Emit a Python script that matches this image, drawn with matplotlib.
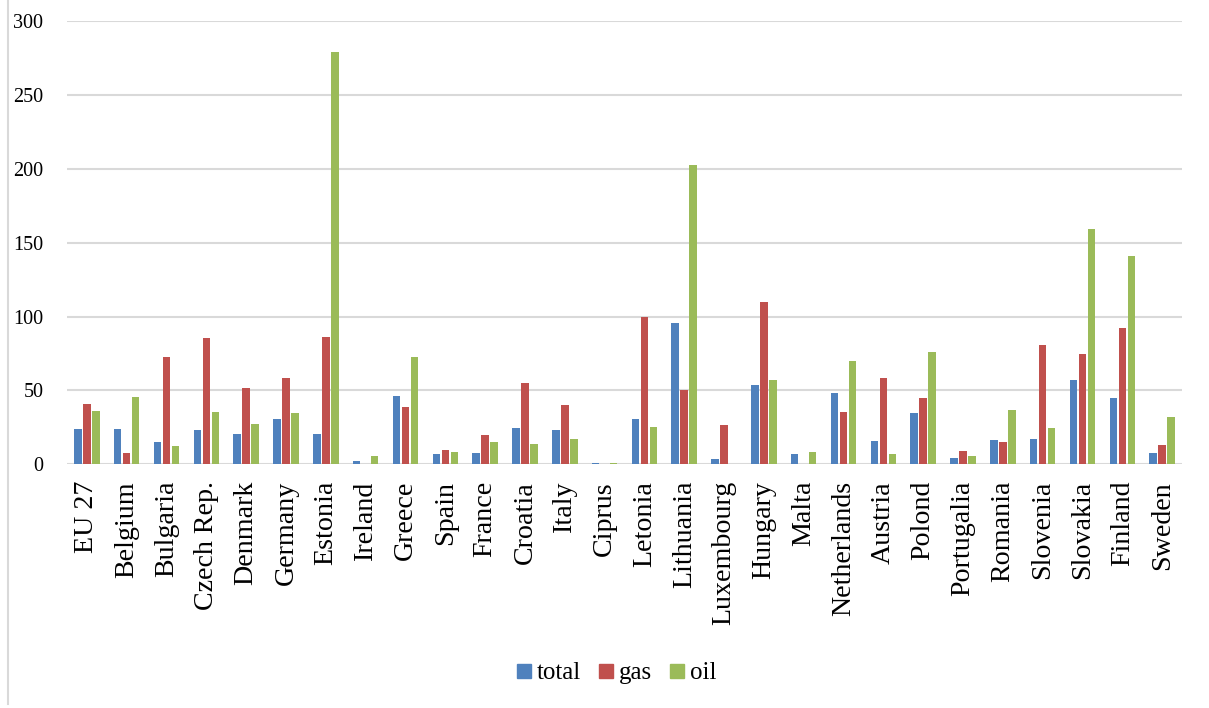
import matplotlib
matplotlib.use("Agg")
import matplotlib.pyplot as plt
import numpy as np
from matplotlib.lines import Line2D
from matplotlib.font_manager import FontProperties

countries = ["EU 27", "Belgium", "Bulgaria", "Czech Rep.", "Denmark", "Germany", "Estonia",
             "Ireland", "Greece", "Spain", "France", "Croatia", "Italy", "Ciprus", "Letonia",
             "Lithuania", "Luxembourg", "Hungary", "Malta", "Netherlands", "Austria", "Polond",
             "Portugalia", "Romania", "Slovenia", "Slovakia", "Finland", "Sweden"]
total = [24.0, 23.8, 14.9, 23.3, 20.6, 30.8, 20.8, 2.5, 46.2, 7.0, 7.9, 24.4, 23.3, 1.1,
         30.8, 95.9, 3.6, 53.8, 7.0, 48.4, 15.8, 34.6, 4.3, 16.5, 17.0, 57.0, 44.6, 7.9]
gas = [40.7, 7.5, 72.6, 85.7, 52.0, 58.4, 86.2, 0.0, 38.5, 10.0, 19.7, 54.8, 40.0, 0.0,
       100.0, 50.5, 26.7, 110.2, 0.0, 35.3, 58.4, 45.0, 9.0, 15.2, 80.8, 74.9, 92.1, 13.3]
oil = [36.0, 45.7, 12.7, 35.3, 27.1, 34.8, 279.0, 5.7, 72.6, 8.1, 15.2, 13.8, 17.0, 0.9,
       25.3, 202.5, 0.0, 57.2, 8.1, 70.1, 6.8, 76.2, 5.7, 36.7, 24.4, 159.1, 140.8, 32.1]
series_names = ["total", "gas", "oil"]
colors = ["#4F81BD", "#C0504D", "#9BBB59"]
yticks = [0, 50, 100, 150, 200, 250, 300]

serif = ["Liberation Serif", "DejaVu Serif"]
plt.rcParams["font.family"] = serif

fig = plt.figure(figsize=(12.09, 7.08), dpi=100)
ax = fig.add_axes([0.0554, 0.3442, 0.9223, 0.6257])

x = np.arange(len(countries))
step = 0.226
w = 0.19
for i, (vals, c) in enumerate(zip([total, gas, oil], colors)):
    ax.bar(x + (i - 1) * step, vals, width=w, color=c, linewidth=0,
           zorder=3, label=series_names[i])

ax.set_xlim(-0.5, len(countries) - 0.5)
ax.set_ylim(0, 300)
ax.set_yticks(yticks)
ax.set_yticklabels([str(v) for v in yticks], fontsize=14.5)
ax.tick_params(axis="y", length=0, pad=17)
ax.set_xticks(x)
ax.set_xticklabels(countries, rotation=90, fontsize=20.2, va="top", ha="center")
ax.tick_params(axis="x", length=0, pad=12)
ax.grid(axis="y", color="#D9D9D9", linewidth=1.5, zorder=0)
ax.set_axisbelow(True)
for s in ax.spines.values():
    s.set_visible(False)

handles = [Line2D([], [], marker="s", linestyle="none", markersize=10, markerfacecolor=c,
                  markeredgecolor=c) for c in colors]
fig.legend(handles, series_names, loc="center", bbox_to_anchor=(617 / 1209, 1 - 673 / 708),
           ncol=3, frameon=False, prop=FontProperties(family=serif, size=18),
           handletextpad=0.24, columnspacing=0.72, handlelength=0.56)

fig.add_artist(Line2D([8 / 1209, 8 / 1209], [0.005, 1.0], color="#D9D9D9", linewidth=1.5,
                      transform=fig.transFigure))

fig.savefig("out.png", dpi=100, facecolor="white")
